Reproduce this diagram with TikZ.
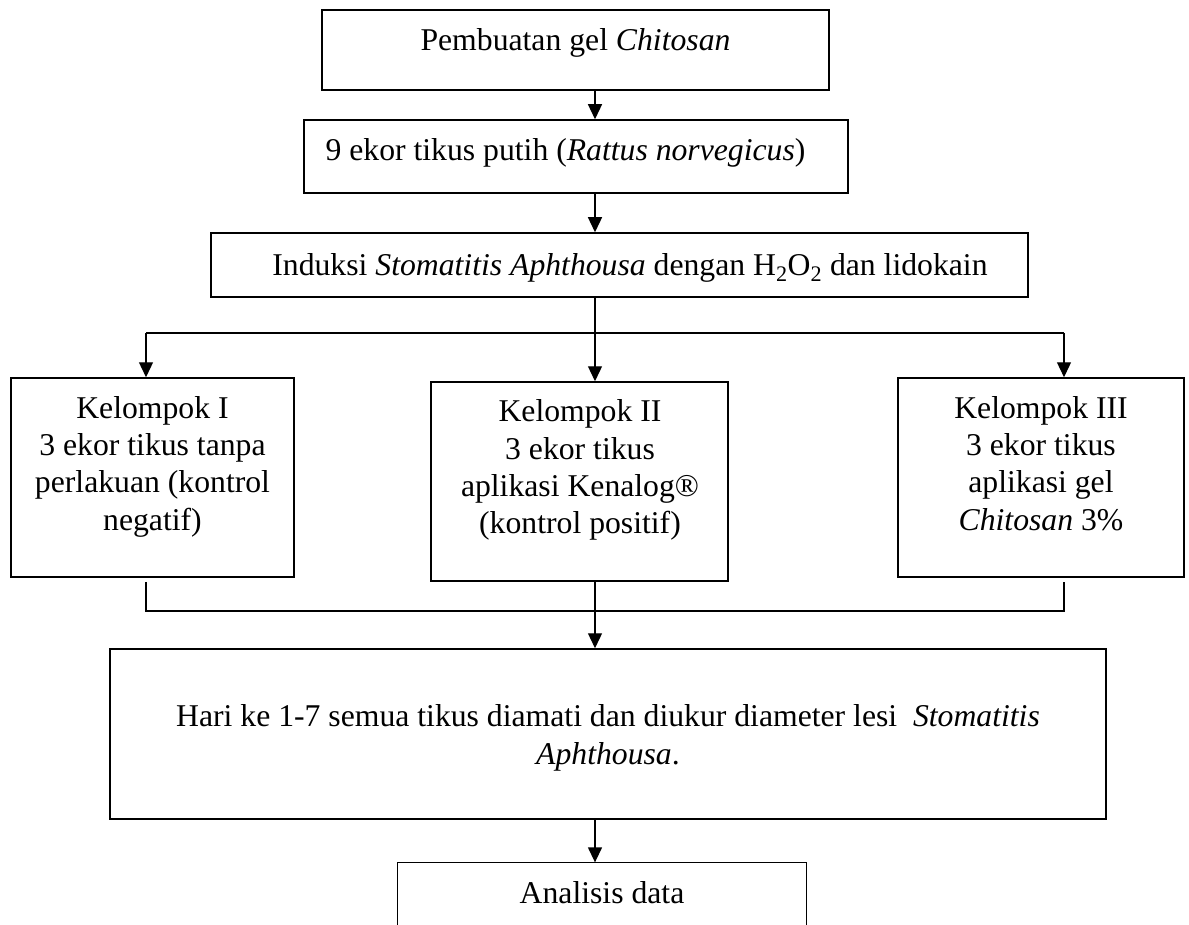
\documentclass[tikz,border=0pt]{standalone}
\usepackage{fontspec}
\setmainfont{Liberation Serif}
\usetikzlibrary{arrows.meta,positioning}

\begin{document}
\begin{tikzpicture}[x=1pt,y=-1pt,>={Triangle[length=15pt,width=14pt]},line width=1.3pt,
    box/.style={draw,rectangle,line width=1.5pt,inner sep=0pt},
    teks/.style={align=center,inner sep=0pt,font=\fontsize{31.7pt}{37.4pt}\selectfont}]

    \useasboundingbox (0,0) rectangle (1189,925);

    % The boxes
    \node [box, minimum width=507pt, minimum height=80pt] at (575.5,50) (gel) {};
    \node [teks] at (575.5,42.7) (gel-t) {Pembuatan gel \textit{Chitosan}};

    \node [box, minimum width=544pt, minimum height=73pt] at (576,156.5) (sampel) {};
    \node [teks] at (565.5,152.7) (sampel-t) {9 ekor tikus putih (\textit{Rattus norvegicus})};

    \node [box, minimum width=817pt, minimum height=64pt] at (619.5,265) (induksi) {};
    \node [teks] at (630,267.7) (induksi-t) {Induksi \textit{Stomatitis Aphthousa} dengan H\textsubscript{2}O\textsubscript{2} dan lidokain};

    \node [box, minimum width=283pt, minimum height=199pt] at (152.5,477.5) (k1) {};
    \node [teks] at (152.5,466.7) (k1-t) {Kelompok I\\3 ekor tikus tanpa\\perlakuan (kontrol\\negatif)};

    \node [box, minimum width=297pt, minimum height=199pt] at (579.5,481.5) (k2) {};
    \node [teks] at (580,470.2) (k2-t) {Kelompok II\\3 ekor tikus\\aplikasi Kenalog®\\(kontrol positif)};

    \node [box, minimum width=286pt, minimum height=199pt] at (1041,477.5) (k3) {};
    \node [teks] at (1041,463.5) (k3-t) {Kelompok III\\3 ekor tikus\\aplikasi gel\\\textit{Chitosan} 3\%};

    \node [box, minimum width=996pt, minimum height=170pt] at (608,734) (hari) {};
    \node [teks] at (608,737.7) (hari-t) {Hari ke 1-7 semua tikus diamati dan diukur diameter lesi\ \ \textit{Stomatitis}\\\textit{Aphthousa}.};

    % last box runs off the page, no bottom edge
    \node [rectangle, inner sep=0pt, minimum width=408pt, minimum height=62pt] at (602,894) (analisis) {};
    \draw [line width=1.5pt] (analisis.south west) -- (analisis.north west) -- (analisis.north east) -- (analisis.south east);
    \node [teks] at (602,892.2) (analisis-t) {Analisis data};

    % Branch points
    \coordinate (bagi) at (595,333);
    \coordinate (kiri) at (146,333);
    \coordinate (kanan) at (1064,333);
    \coordinate (gabung-kiri) at (146,611);
    \coordinate (gabung-kanan) at (1064,611);

    % Graph edges
    \draw (induksi.south -| bagi) -- (bagi);
    \draw (kiri) -- (kanan);
    \draw (kiri |- k2.south) -- (gabung-kiri) -- (gabung-kanan) -- (kanan |- k2.south);

    \path[->]
    (gel.south -| bagi) edge (sampel.north -| bagi)
    (sampel.south -| bagi) edge (induksi.north -| bagi);

    \path[->]
    (kiri) edge (kiri |- k1.north)
    (bagi) edge (k2.north -| bagi)
    (kanan) edge (kanan |- k3.north);

    \path[->]
    (k2.south -| bagi) edge (hari.north -| bagi)
    (hari.south -| bagi) edge (analisis.north -| bagi);

\end{tikzpicture}
\end{document}
